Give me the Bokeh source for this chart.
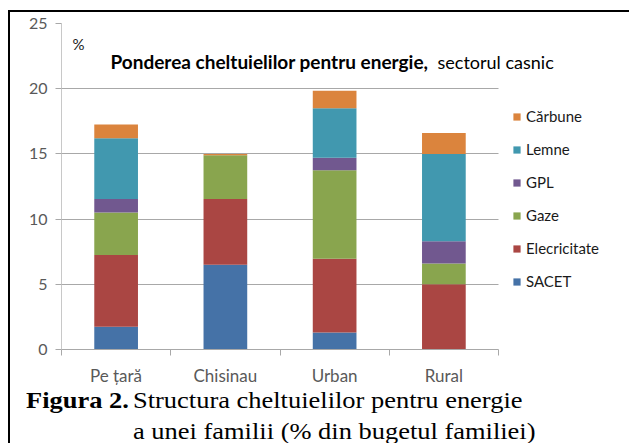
from bokeh.plotting import figure
from bokeh.layouts import column, row
from bokeh.models import (ColumnDataSource, Range1d, FixedTicker, Legend, LegendItem, Label, Div)
from bokeh.embed import file_html
from bokeh.resources import INLINE

# ---- data ----
categories = ["Pe țară", "Chisinau", "Urban", "Rural"]
series_names = ["SACET", "Elecricitate", "Gaze", "GPL", "Lemne", "Cărbune"]
sacet = [1.75, 6.5, 1.3, 0.0]
electricitate = [5.5, 5.05, 5.65, 5.0]
gaze = [3.25, 3.35, 6.8, 1.6]
gpl = [1.05, 0.0, 0.95, 1.7]
lemne = [4.65, 0.0, 3.8, 6.7]
carbune = [1.05, 0.1, 1.35, 1.6]
colors = ["#4572A7", "#AA4643", "#89A54E", "#71588F", "#4198AF", "#DB843D"]
y_ticks = [0, 5, 10, 15, 20, 25]
chart_title_bold = "Ponderea cheltuielilor pentru energie,"
chart_title_rest = "sectorul casnic"
caption_bold = "Figura 2."
caption_line1 = "Structura cheltuielilor pentru energie"
caption_line2 = "a unei familii (% din bugetul familiei)"

keys = ["s0", "s1", "s2", "s3", "s4", "s5"]
ncat = len(categories)
xpos = [i + 0.5 for i in range(ncat)]
src = ColumnDataSource(dict(x=xpos, s0=sacet, s1=electricitate, s2=gaze,
                            s3=gpl, s4=lemne, s5=carbune))

SANS = "Lato"

# plot area 437px wide for the categories; frame extended right to hold the legend
FRAME_W = 568
PLOT_W = 437
p = figure(width=619, height=376, output_backend="svg", toolbar_location=None,
           x_range=Range1d(0, ncat * FRAME_W / PLOT_W), y_range=Range1d(0, 25),
           min_border_left=51, min_border_right=0, min_border_top=11,
           min_border_bottom=38)
p.outline_line_color = None
p.background_fill_color = "white"
p.border_fill_color = "white"

rs = p.vbar_stack(keys, x="x", width=0.4, source=src, color=colors, line_color=None)

# y axis
p.yaxis.ticker = FixedTicker(ticks=y_ticks)
p.yaxis.axis_line_color = "#c8c8c8"
p.yaxis.major_tick_line_color = "#a8a8a8"
p.yaxis.major_tick_out = 6
p.yaxis.major_tick_in = 0
p.yaxis.minor_tick_line_color = None
p.yaxis.major_label_text_font = SANS
p.yaxis.major_label_text_font_size = "16px"
p.yaxis.major_label_text_color = "#595959"
p.yaxis.major_label_standoff = 8

# x axis
p.xaxis.bounds = (0, ncat)
p.xaxis.ticker = FixedTicker(ticks=xpos, minor_ticks=list(range(ncat + 1)))
p.xaxis.major_label_overrides = {x: c for x, c in zip(xpos, categories)}
p.xaxis.major_tick_line_color = None
p.xaxis.major_tick_out = 0
p.xaxis.major_tick_in = 0
p.xaxis.minor_tick_line_color = "#a8a8a8"
p.xaxis.minor_tick_out = 6
p.xaxis.minor_tick_in = 0
p.xaxis.axis_line_color = "#a8a8a8"
p.xaxis.major_label_text_font = SANS
p.xaxis.major_label_text_font_size = "17px"
p.xaxis.major_label_text_color = "#595959"
p.xaxis.major_label_standoff = 9

p.xgrid.grid_line_color = None
p.ygrid.grid_line_color = "#a8a8a8"
p.ygrid.grid_line_width = 1
p.ygrid.cross_bounds = (0, ncat)

# legend
items = [LegendItem(label=series_names[i], renderers=[rs[i]]) for i in range(5, -1, -1)]
legend = Legend(items=items, location=(451, 58), padding=0, margin=0,
                border_line_color=None, background_fill_alpha=0,
                glyph_width=9, glyph_height=9, label_standoff=5,
                label_height=20, spacing=13,
                label_text_font=SANS, label_text_font_size="15px",
                label_text_color="#1a1a1a")
p.add_layout(legend)

# in-chart title
p.add_layout(Label(x=11, y=306, x_units="screen", y_units="screen", text="%",
                   text_font=SANS, text_font_size="15px", text_color="#1a1a1a",
                   text_baseline="middle"))
p.add_layout(Label(x=49, y=288, x_units="screen", y_units="screen",
                   text=chart_title_bold,
                   text_font=SANS, text_font_size="19px", text_font_style="bold",
                   text_color="black", text_baseline="alphabetic"))
p.add_layout(Label(x=376, y=288, x_units="screen", y_units="screen",
                   text=chart_title_rest,
                   text_font=SANS, text_font_size="18px", text_color="black",
                   text_baseline="alphabetic"))

# caption (HTML text below the chart)
span = ("position:absolute;white-space:nowrap;transform:scaleX(1.15);"
        "transform-origin:0 0;line-height:23px;")
cap_html = (
    '<div style="position:relative;width:619px;height:55px;overflow:hidden;'
    "font-family:'Liberation Serif';font-size:23px;color:#000;background:#fff;\">"
    f'<span style="{span}left:16px;top:1px;font-weight:bold;">{caption_bold}</span>'
    f'<span style="{span}left:123px;top:1px;">{caption_line1}</span>'
    f'<span style="{span}left:123px;top:32px;">{caption_line2}</span>'
    '</div>'
)
cap = Div(text=cap_html, width=619, height=55, margin=0)

# outer black frame edges (top and left)
top_bar = Div(text="", width=621, height=2, margin=0,
              styles={"background-color": "#000000"})
left_bar = Div(text="", width=2, height=431, margin=0,
               styles={"background-color": "#000000"})

layout = column(top_bar, row(left_bar, column(p, cap, spacing=0, margin=0),
                             spacing=0, margin=0),
                spacing=0, margin=(10, 0, 0, 8))

open("out.html", "w").write(file_html(layout, INLINE))
